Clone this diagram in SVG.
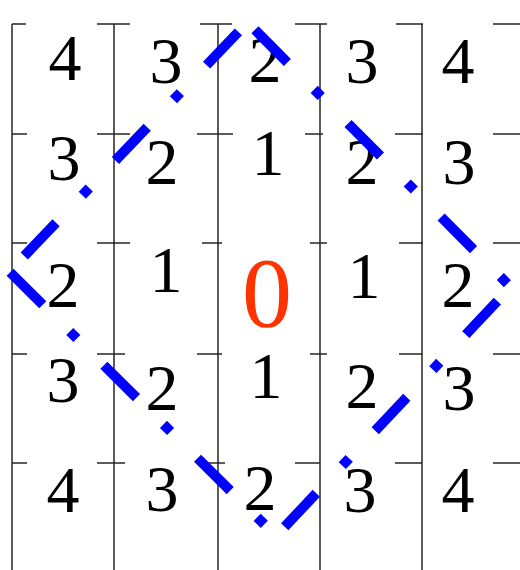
<svg xmlns="http://www.w3.org/2000/svg" width="520" height="570" viewBox="0 0 520 570">
<style>
.g{stroke:#262626;stroke-width:1.5;fill:none}
.n{font-family:"Liberation Serif","Times New Roman",serif;font-size:66px;fill:#000;text-anchor:middle}
.z{font-family:"Liberation Serif","Times New Roman",serif;font-size:100px;fill:#ff3300;text-anchor:middle}
.d{stroke:#0000ff;stroke-width:10;fill:none;stroke-linecap:butt;stroke-dasharray:46 38 10 38}
</style>
<rect width="520" height="570" fill="#fff"/>
<g id="grid" class="g">
<path d="M12 24V570M114 24V570M218 24V570M320 24V570M422 24V570"/>
<path d="M12 24H26M97 24H130M200 24H232M295 24H327M396 24H423M493 24H520"/>
<path d="M12 134H27M97 134H130M197 134H233M305 134H323M395 134H423M493 134H520"/>
<path d="M12 243H27M97 243H130M202 243H222M310 243H327M399 243H423M493 243H520"/>
<path d="M12 354H27M97 354H125M197 354H222M310 354H327M399 354H422M493 354H520"/>
<path d="M12 463H27M97 463H125M200 463H225M295 463H320M395 463H422M493 463H520"/>
</g>
<g id="cells">
<g id="c11"><text class="n" x="65" y="80">4</text></g>
<g id="c12"><text class="n" x="166" y="83">3</text></g>
<g id="c13"><text class="n" x="265" y="82">2</text></g>
<g id="c14"><text class="n" x="362" y="83">3</text></g>
<g id="c15"><text class="n" x="458" y="83">4</text></g>
<g id="c21"><text class="n" x="64" y="180">3</text></g>
<g id="c22"><text class="n" x="162" y="184">2</text></g>
<g id="c23"><text class="n" x="268" y="175">1</text></g>
<g id="c24"><text class="n" x="362" y="184">2</text></g>
<g id="c25"><text class="n" x="459" y="184">3</text></g>
<g id="c31"><text class="n" x="63" y="307">2</text></g>
<g id="c32"><text class="n" x="166" y="292">1</text></g>
<g id="c33"><text class="z" x="267" y="326">0</text></g>
<g id="c34"><text class="n" x="364" y="298">1</text></g>
<g id="c35"><text class="n" x="458" y="307">2</text></g>
<g id="c41"><text class="n" x="63" y="402">3</text></g>
<g id="c42"><text class="n" x="162" y="410">2</text></g>
<g id="c43"><text class="n" x="266" y="398">1</text></g>
<g id="c44"><text class="n" x="362" y="408">2</text></g>
<g id="c45"><text class="n" x="459" y="410">3</text></g>
<g id="c51"><text class="n" x="63" y="512">4</text></g>
<g id="c52"><text class="n" x="162" y="511">3</text></g>
<g id="c53"><text class="n" x="260" y="510">2</text></g>
<g id="c54"><text class="n" x="360" y="512">3</text></g>
<g id="c55"><text class="n" x="458" y="512">4</text></g>
</g>
<g id="diamond">
<line class="d" x1="9.4" y1="271.6" x2="276" y2="536" stroke-dashoffset="-1"/>
<line class="d" x1="276" y1="536" x2="510.7" y2="287" stroke-dashoffset="-12.7"/>
<line class="d" x1="510.7" y1="287" x2="247.5" y2="22.3" stroke-dashoffset="79.3"/>
<line class="d" x1="247.5" y1="22.3" x2="9.4" y2="271.6" stroke-dashoffset="-13.2"/>
</g>
</svg>
